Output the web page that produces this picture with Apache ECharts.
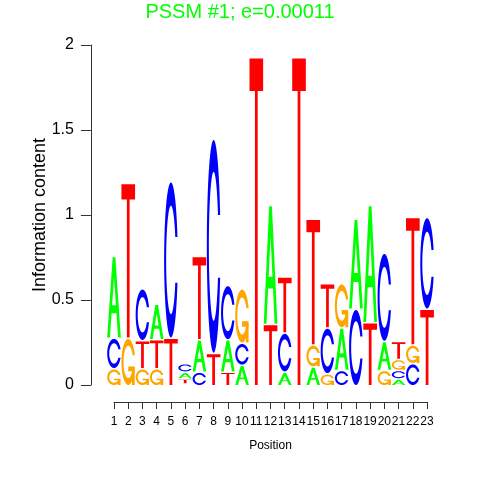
<!DOCTYPE html>
<html><head><meta charset="utf-8">
<script src="https://cdn.jsdelivr.net/npm/echarts@6/dist/echarts.min.js"></script>
<style>html,body{margin:0;padding:0;background:#fff}#c{width:480px;height:480px}</style>
</head><body><div id="c"></div>
<script>
const positions = [1,2,3,4,5,6,7,8,9,10,11,12,13,14,15,16,17,18,19,20,21,22,23];
const heightA = [0.48,0,0,0.21,0,0.04,0.19,0,0.19,0.12,0,0.70,0.08,0,0.11,0,0.25,0.53,0.69,0.17,0.04,0,0];
const heightC = [0.18,0,0.305,0,0.92,0.05,0.08,1.26,0.32,0.13,0,0,0.23,0,0,0.27,0.09,0.45,0,0.52,0.05,0.13,0.54];
const heightG = [0.10,0.28,0.10,0.10,0,0.01,0,0,0,0.32,0,0,0,0,0.13,0.07,0.26,0,0,0.09,0.065,0.11,0];
const heightT = [0,0.91,0.165,0.17,0.28,0.03,0.49,0.19,0.08,0,1.93,0.36,0.33,1.93,0.74,0.26,0,0,0.37,0,0.105,0.75,0.45];
// letters stacked bottom -> top at each position
const stackOrder = ["GCA","GT","GTC","GTA","TC","GTAC","CAT","TC","TAC","ACG","T","TA","ACT","T","AGT","GCT","CAG","CA","TA","GAC","ACGT","CGT","TC"];
const yTicks = [0, 0.5, 1, 1.5, 2];
const titleText = "PSSM #1; e=0.00011";

const LETTERS = "ACGT";
const heights = {A: heightA, C: heightC, G: heightG, T: heightT};
const COLORS = ['#00FF00', '#0000FF', '#FFA500', '#FF0000'];

// ---- letter glyphs in a unit square (seqLogo-style polygons) ----
function ringShape() {
  const n = 100, PI = Math.PI;
  const a1 = [], a2 = [];
  for (let i = 0; i < n; i++) {
    a1.push(0.3 + PI / 2 + (PI - (0.3 + PI / 2)) * i / (n - 1));
    a2.push(PI + 0.5 * PI * i / (n - 1));
  }
  const xl1 = a1.map(a => 0.5 + 0.5 * Math.sin(a)), yl1 = a1.map(a => 0.5 + 0.5 * Math.cos(a));
  const xl2 = a2.map(a => 0.5 + 0.5 * Math.sin(a)), yl2 = a2.map(a => 0.5 + 0.5 * Math.cos(a));
  const xl = xl1.concat(xl2), yl = yl1.concat(yl2);
  const x = xl.concat(xl.slice().reverse());
  const y = yl.concat(yl.slice().reverse().map(v => 1 - v));
  const maxY = Math.max.apply(null, yl1);
  let xi1 = [], yi1 = [];
  a1.forEach(a => { const yv = 0.5 + 0.35 * Math.cos(a); if (yv <= maxY) { xi1.push(0.5 + 0.35 * Math.sin(a)); yi1.push(yv); } });
  yi1[0] = maxY;
  const xi2 = a2.map(a => 0.5 + 0.35 * Math.sin(a)), yi2 = a2.map(a => 0.5 + 0.35 * Math.cos(a));
  const xi = xi1.concat(xi2), yi = yi1.concat(yi2);
  const x1 = xi.concat(xi.slice().reverse());
  const y1 = yi.concat(yi.slice().reverse().map(v => 1 - v));
  const X = x.concat(x1.slice().reverse()), Y = y.concat(y1.slice().reverse());
  return {pts: X.map((v, i) => [v, Y[i]]), r1: Math.max.apply(null, xl1)};
}
const ring = ringShape();
const GLYPHS = [
  // A
  [{p: [[0,0],[0.4,1],[0.6,1],[1,0],[0.8,0],[0.68,0.3],[0.32,0.3],[0.2,0]], white: false},
   {p: [[0.36,0.4],[0.5,0.75],[0.64,0.4]], white: true}],
  // C
  [{p: ring.pts, white: false}],
  // G
  [{p: ring.pts, white: false},
   {p: [[ring.r1,0.4],[0.5,0.4],[0.5,0.3],[ring.r1-0.2,0.3],[ring.r1-0.2,0],[ring.r1,0]], white: false}],
  // T
  [{p: [[0,1],[1,1],[1,0.9],[0.6,0.9],[0.6,0],[0.4,0],[0.4,0.9],[0,0.9]], white: false}]
];

// ---- build stacked letter items ----
const letterData = [];
positions.forEach((pos, i) => {
  let y = 0;
  for (const ch of stackOrder[i]) {
    const h = heights[ch][i];
    if (h > 0) letterData.push([pos, y, y + h, LETTERS.indexOf(ch)]);
    y += h;
  }
});

const chart = echarts.init(document.getElementById('c'), null, {renderer: 'canvas'});
const FONT = 'Liberation Sans, Arial, Helvetica, sans-serif';
chart.setOption({
  animation: false,
  backgroundColor: '#ffffff',
  title: {
    text: titleText, left: 'center', top: -3,
    textStyle: {color: '#00FF00', fontSize: 20, fontWeight: 'normal', fontFamily: FONT}
  },
  grid: [
    {left: 106.9, right: 45.8, top: 45, bottom: 95},
    {left: 114, right: 53, top: 401, height: 1}
  ],
  xAxis: [
    {gridIndex: 0, type: 'value', min: 0.5, max: 23.5, show: false},
    {gridIndex: 1, type: 'value', min: 1, max: 23, interval: 1,
     axisLine: {show: true, lineStyle: {color: '#333', width: 1}},
     axisTick: {show: true, length: 7, lineStyle: {color: '#333'}},
     axisLabel: {fontSize: 12, color: '#000', margin: 14, fontFamily: FONT},
     splitLine: {show: false},
     name: 'Position', nameLocation: 'middle', nameGap: 38,
     nameTextStyle: {fontSize: 12, color: '#000', fontFamily: FONT}}
  ],
  yAxis: [
    {gridIndex: 0, type: 'value', min: yTicks[0], max: yTicks[yTicks.length - 1], interval: 0.5,
     offset: 16,
     axisLine: {show: true, lineStyle: {color: '#333', width: 1}},
     axisTick: {show: true, length: 10, lineStyle: {color: '#333'}},
     axisLabel: {fontSize: 16, color: '#000', margin: 17, fontFamily: FONT},
     splitLine: {show: false},
     name: 'Information content', nameLocation: 'middle', nameGap: 42,
     nameMoveOverlap: false,
     nameTextStyle: {fontSize: 18, color: '#000', fontFamily: FONT}},
    {gridIndex: 1, type: 'value', show: false}
  ],
  series: [{
    type: 'custom',
    xAxisIndex: 0, yAxisIndex: 0,
    data: letterData,
    encode: {x: 0, y: [1, 2]},
    renderItem: function (params, api) {
      const pos = api.value(0), y0 = api.value(1), y1 = api.value(2), k = api.value(3);
      const pL = api.coord([pos - 0.5, y0]);
      const pR = api.coord([pos + 0.5, y1]);
      const x0 = pL[0] + 0.3, w = pR[0] - pL[0] - 0.6;
      const yb = pL[1];
      const h = pL[1] - pR[1] - 1.5;
      if (h <= 0.2) return null;
      const children = GLYPHS[k].map(g => ({
        type: 'polygon',
        shape: {points: g.p.map(q => [x0 + q[0] * w, yb - q[1] * h])},
        style: {fill: g.white ? '#ffffff' : COLORS[k]}
      }));
      return {type: 'group', children: children};
    }
  }]
});
</script>
</body></html>
